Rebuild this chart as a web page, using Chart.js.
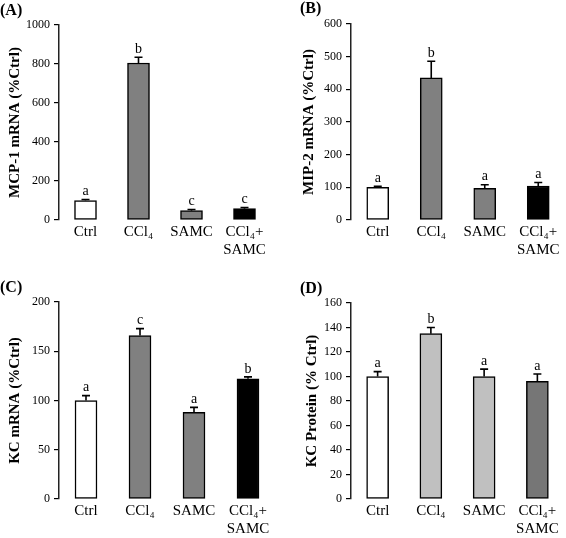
<!DOCTYPE html>
<html>
<head>
<meta charset="utf-8">
<script src="https://cdn.jsdelivr.net/npm/chart.js@4/dist/chart.umd.min.js"></script>
<style>
  html, body { margin: 0; padding: 0; background: #fff; }
  #wrap { position: relative; width: 566px; height: 538px; }
  .cell { position: absolute; width: 283px; height: 269px; }
</style>
</head>
<body>
<div id="wrap">
  <div class="cell" style="left:0;top:0"><canvas id="cA" width="283" height="269"></canvas></div>
  <div class="cell" style="left:283px;top:0"><canvas id="cB" width="283" height="269"></canvas></div>
  <div class="cell" style="left:0;top:269px"><canvas id="cC" width="283" height="269"></canvas></div>
  <div class="cell" style="left:283px;top:269px"><canvas id="cD" width="283" height="269"></canvas></div>
</div>
<script>
// ---- data ----
const categories = ['Ctrl', 'CCl₄', 'SAMC', ['CCl₄+', 'SAMC']];

const mcp1Values  = [100, 805, 48, 58];
const mcp1Errors  = [5, 30, 6, 6];
const mcp1Letters = ['a', 'b', 'c', 'c'];
const mcp1Ticks   = [0, 200, 400, 600, 800, 1000];

const mip2Values  = [100, 435, 97, 104];
const mip2Errors  = [3, 51, 11, 11];
const mip2Letters = ['a', 'b', 'a', 'a'];
const mip2Ticks   = [0, 100, 200, 300, 400, 500, 600];

const kcMrnaValues  = [100, 166, 88, 122];
const kcMrnaErrors  = [5, 7, 5, 2];
const kcMrnaLetters = ['a', 'c', 'a', 'b'];
const kcMrnaTicks   = [0, 50, 100, 150, 200];

const kcProtValues  = [100, 135, 100, 96];
const kcProtErrors  = [4, 5, 6, 6];
const kcProtLetters = ['a', 'b', 'a', 'a'];
const kcProtTicks   = [0, 20, 40, 60, 80, 100, 120, 140, 160];

const colorsMrna = ['#ffffff', '#808080', '#808080', '#000000'];
const colorsProt = ['#ffffff', '#c0c0c0', '#c0c0c0', '#767676'];

const SERIF = "'Liberation Serif', 'Times New Roman', Times, serif";

const errLetterPlugin = {
  id: 'errLetters',
  afterDatasetsDraw(chart, args, opts) {
    const ctx = chart.ctx;
    const y = chart.scales.y;
    const meta = chart.getDatasetMeta(0);
    const vals = chart.data.datasets[0].data;
    ctx.save();
    meta.data.forEach((bar, i) => {
      const x = bar.x;
      const yTop = y.getPixelForValue(vals[i]);
      const yErr = y.getPixelForValue(vals[i] + opts.errors[i]);
      ctx.strokeStyle = '#000';
      ctx.lineWidth = 1.6;
      ctx.beginPath();
      ctx.moveTo(x, yTop);
      ctx.lineTo(x, yErr);
      ctx.moveTo(x - 4, yErr);
      ctx.lineTo(x + 4, yErr);
      ctx.stroke();
      ctx.fillStyle = '#000';
      ctx.font = '14px ' + SERIF;
      ctx.textAlign = 'center';
      ctx.textBaseline = 'bottom';
      ctx.fillText(opts.letters[i], x, yErr - 1);
    });
    ctx.font = 'bold 16px ' + SERIF;
    ctx.textAlign = 'left';
    ctx.textBaseline = 'alphabetic';
    ctx.fillText(opts.panel, opts.panelX, opts.panelY);
    ctx.restore();
  }
};

function makeChart(id, p) {
  return new Chart(document.getElementById(id), {
    type: 'bar',
    data: {
      labels: categories,
      datasets: [{
        data: p.values,
        backgroundColor: p.colors,
        borderColor: '#000',
        borderWidth: 1.5,
        borderSkipped: false,
        barThickness: 22
      }]
    },
    options: {
      responsive: false,
      animation: false,
      devicePixelRatio: 1,
      layout: { padding: { left: 0, top: p.top, right: 283 - p.right, bottom: 0 } },
      plugins: {
        legend: { display: false },
        tooltip: { enabled: false },
        errLetters: { errors: p.errors, letters: p.letters, panel: p.panel, panelX: p.panelX, panelY: p.panelY }
      },
      scales: {
        x: {
          grid: { display: false, drawTicks: false, tickLength: 0 },
          border: { display: false },
          ticks: { color: '#000', font: { family: SERIF, size: 15 }, padding: 3, maxRotation: 0, autoSkip: false },
          afterFit(s) { s.height = 269 - p.bottom; }
        },
        y: {
          min: 0,
          max: p.ticks[p.ticks.length - 1],
          afterBuildTicks(s) { s.ticks = p.ticks.map(v => ({ value: v })); },
          grid: { display: true, drawOnChartArea: false, drawTicks: true, tickLength: 5, color: '#000', lineWidth: 1.2 },
          border: { display: true, color: '#222', width: 1.5 },
          ticks: { color: '#000', font: { family: SERIF, size: 12 }, padding: 4, callback: v => String(v) },
          title: { display: true, text: p.title, color: '#000', font: { family: SERIF, size: 15, weight: 'bold' }, padding: { top: p.titlePad, bottom: 0 } },
          afterFit(s) { s.width = p.axisX; }
        }
      }
    },
    plugins: [errLetterPlugin]
  });
}

makeChart('cA', { values: mcp1Values, errors: mcp1Errors, letters: mcp1Letters, ticks: mcp1Ticks, colors: colorsMrna,
  title: 'MCP-1 mRNA (%Ctrl)', panel: '(A)', panelX: 0, panelY: 15, axisX: 59, top: 25, bottom: 220, right: 271, titlePad: 6 });
makeChart('cB', { values: mip2Values, errors: mip2Errors, letters: mip2Letters, ticks: mip2Ticks, colors: colorsMrna,
  title: 'MIP-2 mRNA (%Ctrl)', panel: '(B)', panelX: 17, panelY: 13, axisX: 68, top: 24, bottom: 220, right: 282, titlePad: 17 });
makeChart('cC', { values: kcMrnaValues, errors: kcMrnaErrors, letters: kcMrnaLetters, ticks: kcMrnaTicks, colors: colorsMrna,
  title: 'KC mRNA (%Ctrl)', panel: '(C)', panelX: 0, panelY: 23, axisX: 59, top: 33, bottom: 230, right: 275, titlePad: 6 });
makeChart('cD', { values: kcProtValues, errors: kcProtErrors, letters: kcProtLetters, ticks: kcProtTicks, colors: colorsProt,
  title: 'KC Protein (% Ctrl)', panel: '(D)', panelX: 17, panelY: 24, axisX: 68, top: 34, bottom: 230, right: 281, titlePad: 20 });
</script>
</body>
</html>
